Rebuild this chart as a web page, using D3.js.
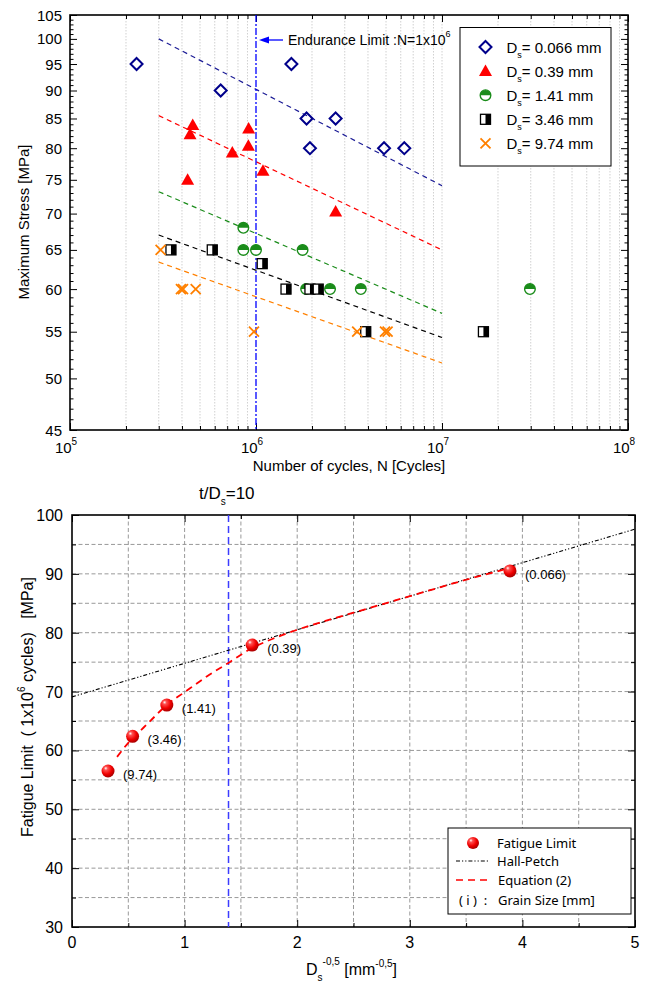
<!DOCTYPE html>
<html>
<head>
<meta charset="utf-8">
<script src="https://cdn.jsdelivr.net/npm/d3@7"></script>
<style>
body { margin: 0; background: #fff; }
svg { display: block; }
text { white-space: pre; }
</style>
</head>
<body>
<script>
// ---------- S-N data (upper chart) ----------
const grainLabels = ['0.066', '0.39', '1.41', '3.46', '9.74'];
const ds066 = [[2.28e5, 95], [6.46e5, 90], [1.55e6, 95], [1.87e6, 85], [2.68e6, 85], [1.95e6, 80], [4.88e6, 80], [6.27e6, 80]];
const ds039 = [[4.29e5, 75], [4.42e5, 82.3], [4.57e5, 83.9], [7.46e5, 79.3], [9.1e5, 80.4], [9.13e5, 83.3], [1.09e6, 76.4], [2.68e6, 70.3]];
const ds141 = [[8.55e5, 68], [8.55e5, 65], [1.0e6, 65], [1.78e6, 65], [1.86e6, 60], [2.5e6, 60], [3.66e6, 60], [2.97e7, 60]];
const ds346 = [[3.49e5, 65], [5.82e5, 65], [1.08e6, 63.2], [1.45e6, 60], [1.95e6, 60], [2.16e6, 60], [3.89e6, 55], [1.67e7, 55]];
const ds974 = [[3.07e5, 65], [3.95e5, 60], [4.05e5, 60], [4.74e5, 60], [9.75e5, 55], [3.5e6, 55], [4.94e6, 55], [5.1e6, 55]];
const fitStartN = 3e5;
const fitEndN = 1e7;
const fitStartStress = [100, 85.5, 73.2, 67.0, 63.4];
const fitEndStress = [74.1, 65.0, 57.1, 54.35, 51.6];
const enduranceN = 1e6;
const stressTicks = [45, 50, 55, 60, 65, 70, 75, 80, 85, 90, 95, 100, 105];
const cycleDecades = [1e5, 1e6, 1e7, 1e8];

// ---------- fatigue limit data (lower chart) ----------
const dInvSqrt = [3.89, 1.60, 0.842, 0.538, 0.320];
const fatigueLimit = [90.5, 77.9, 67.7, 62.4, 56.5];
const hallPetchX = [0, 5];
const hallPetchY = [69.1, 97.6];
const equationX = [0.40, 0.50, 0.60, 0.70, 0.84, 1.0, 1.2, 1.4, 1.6, 1.8, 2.0, 2.5, 3.0, 3.5, 3.85];
const equationY = [58.9, 61.3, 63.2, 65.1, 67.7, 69.9, 72.6, 75.0, 77.4, 79.1, 80.5, 83.4, 86.2, 89.0, 90.8];
const tOverDsLine = 1.39;
const limitTicks = [30, 40, 50, 60, 70, 80, 90, 100];
const dTicks = [0, 1, 2, 3, 4, 5];

const FONT = '"Liberation Sans", Arial, sans-serif';

const svg = d3.select('body').append('svg')
    .attr('width', 651)
    .attr('height', 983)
    .attr('font-family', FONT);

const defs = svg.append('defs');
const grad = defs.append('radialGradient')
    .attr('id', 'ball')
    .attr('cx', '40%').attr('cy', '35%').attr('r', '65%')
    .attr('fx', '32%').attr('fy', '28%');
grad.append('stop').attr('offset', '0%').attr('stop-color', '#ffffff');
grad.append('stop').attr('offset', '22%').attr('stop-color', '#ff5050');
grad.append('stop').attr('offset', '65%').attr('stop-color', '#f00000');
grad.append('stop').attr('offset', '100%').attr('stop-color', '#a80000');

// inward ticks on one side of a frame
function ticksOn(g, axisFn, scale, values, size, transform) {
    g.append('g')
        .attr('transform', transform)
        .call(axisFn(scale).tickValues(values).tickSize(-size).tickFormat(''))
        .call(s => s.select('.domain').remove())
        .call(s => s.selectAll('.tick line').attr('stroke', '#000').attr('stroke-width', 1));
}

// ================= upper chart =================
const x1 = d3.scaleLog().domain([1e5, 1e8]).range([70, 628]);
const y1 = d3.scaleLog().domain([45, 105]).range([430, 15]);

const minorCycles = [];
[1e5, 1e6, 1e7].forEach(d => { for (let k = 2; k <= 9; k++) minorCycles.push(d * k); });
const minorStress = d3.range(45, 106).filter(v => v % 5 !== 0);

const upper = svg.append('g');

upper.append('g')
    .selectAll('line')
    .data(minorCycles.concat([1e7]))
    .join('line')
    .attr('x1', d => x1(d)).attr('x2', d => x1(d))
    .attr('y1', y1(105)).attr('y2', y1(45))
    .attr('stroke', '#c4c4c4')
    .attr('stroke-width', 0.8)
    .attr('stroke-dasharray', '1.5 1.5');

ticksOn(upper, d3.axisBottom, x1, cycleDecades, 7, `translate(0,${y1(45)})`);
ticksOn(upper, d3.axisBottom, x1, minorCycles, 4, `translate(0,${y1(45)})`);
ticksOn(upper, d3.axisTop, x1, cycleDecades, 7, `translate(0,${y1(105)})`);
ticksOn(upper, d3.axisTop, x1, minorCycles, 4, `translate(0,${y1(105)})`);
ticksOn(upper, d3.axisLeft, y1, stressTicks, 7, `translate(${x1(1e5)},0)`);
ticksOn(upper, d3.axisLeft, y1, minorStress, 3.5, `translate(${x1(1e5)},0)`);
ticksOn(upper, d3.axisRight, y1, stressTicks, 7, `translate(${x1(1e8)},0)`);
ticksOn(upper, d3.axisRight, y1, minorStress, 3.5, `translate(${x1(1e8)},0)`);

upper.append('rect')
    .attr('x', x1(1e5)).attr('y', y1(105))
    .attr('width', x1(1e8) - x1(1e5)).attr('height', y1(45) - y1(105))
    .attr('fill', 'none').attr('stroke', '#000').attr('stroke-width', 1.6);

// y tick labels
upper.append('g')
    .selectAll('text')
    .data(stressTicks)
    .join('text')
    .attr('x', x1(1e5) - 8)
    .attr('y', d => y1(d) + 5.5)
    .attr('text-anchor', 'end')
    .attr('font-size', 15)
    .text(d => d);

// x tick labels 10^n
upper.append('g')
    .selectAll('text')
    .data(cycleDecades)
    .join('text')
    .attr('x', d => x1(d) - 4)
    .attr('y', 453)
    .attr('text-anchor', 'middle')
    .attr('font-size', 15)
    .call(t => {
        t.append('tspan').text('10');
        t.append('tspan').attr('dy', -8).attr('font-size', 10).text(d => Math.round(Math.log10(d)));
    });

upper.append('text')
    .attr('x', 349).attr('y', 471)
    .attr('text-anchor', 'middle')
    .attr('font-size', 15)
    .text('Number of cycles, N [Cycles]');

upper.append('text')
    .attr('transform', 'translate(29,222) rotate(-90)')
    .attr('text-anchor', 'middle')
    .attr('font-size', 15)
    .text('Maximum Stress [MPa]');

// fitted dashed lines
const seriesColors = ['#1c1c96', '#ff0000', '#1a8c1a', '#000000', '#ff8000'];
const fitLine = d3.line().x(d => x1(d[0])).y(d => y1(d[1]));
upper.append('g')
    .selectAll('path')
    .data(fitStartStress.map((s, i) => [[fitStartN, s], [fitEndN, fitEndStress[i]]]))
    .join('path')
    .attr('d', fitLine)
    .attr('fill', 'none')
    .attr('stroke', (d, i) => seriesColors[i])
    .attr('stroke-width', 1.2)
    .attr('stroke-dasharray', '5 4');

// endurance limit
upper.append('line')
    .attr('x1', x1(enduranceN)).attr('x2', x1(enduranceN))
    .attr('y1', y1(105)).attr('y2', y1(45))
    .attr('stroke', '#0000ff')
    .attr('stroke-width', 1.3)
    .attr('stroke-dasharray', '7 2 2 2');

upper.append('line')
    .attr('x1', 268).attr('x2', 283).attr('y1', 40).attr('y2', 40)
    .attr('stroke', '#0000ff').attr('stroke-width', 1.3);
upper.append('path')
    .attr('d', 'M259,40 L269,36.5 L269,43.5 Z')
    .attr('fill', '#0000ff');
upper.append('text')
    .attr('x', 288).attr('y', 45)
    .attr('font-size', 14)
    .call(t => {
        t.append('tspan').text('Endurance Limit :N=1x10');
        t.append('tspan').attr('dy', -8).attr('font-size', 9).text('6');
    });

// markers
function drawMarker(g, type) {
    if (type === 0) {
        g.append('path').attr('d', 'M0,-6 L6,0 L0,6 L-6,0 Z')
            .attr('fill', 'none').attr('stroke', '#00008b').attr('stroke-width', 2);
    } else if (type === 1) {
        g.append('path').attr('d', 'M0,-6.5 L6.5,5 L-6.5,5 Z').attr('fill', '#ff0000');
    } else if (type === 2) {
        g.append('circle').attr('r', 5.3).attr('fill', '#fff').attr('stroke', '#1a8c1a').attr('stroke-width', 1.4);
        g.append('path').attr('d', 'M-5.3,0 A5.3,5.3 0 0 1 5.3,0 Z').attr('fill', '#1a8c1a');
    } else if (type === 3) {
        g.append('rect').attr('x', -5).attr('y', -5).attr('width', 10).attr('height', 10)
            .attr('fill', '#fff').attr('stroke', '#000').attr('stroke-width', 1.3);
        g.append('rect').attr('x', 0).attr('y', -5).attr('width', 5).attr('height', 10).attr('fill', '#000');
    } else {
        g.append('path').attr('d', 'M-5,-5 L5,5 M-5,5 L5,-5')
            .attr('stroke', '#ff8000').attr('stroke-width', 1.8);
    }
}

[ds066, ds039, ds141, ds346, ds974].forEach((data, i) => {
    upper.append('g')
        .selectAll('g')
        .data(data)
        .join('g')
        .attr('transform', d => `translate(${x1(d[0])},${y1(d[1])})`)
        .each(function () { drawMarker(d3.select(this), i); });
});

// legend
const leg1 = upper.append('g');
leg1.append('rect')
    .attr('x', 460).attr('y', 27.5).attr('width', 151).attr('height', 138.5)
    .attr('fill', '#fff').attr('stroke', '#000').attr('stroke-width', 1);
grainLabels.forEach((lab, i) => {
    const cy = 47 + i * 24.1;
    drawMarker(leg1.append('g').attr('transform', `translate(485.5,${cy})`), i);
    leg1.append('text')
        .attr('x', 506.5).attr('y', cy + 5.5)
        .attr('font-size', 15)
        .call(t => {
            t.append('tspan').text('D');
            t.append('tspan').attr('dy', 5).attr('font-size', 9).text('s');
            t.append('tspan').attr('dy', -5).text(`= ${lab} mm`);
        });
});

// ================= lower chart =================
const x2 = d3.scaleLinear().domain([0, 5]).range([72, 635]);
const y2 = d3.scaleLinear().domain([30, 100]).range([927, 515]);

const lower = svg.append('g');

const gridX = d3.range(0.5, 5, 0.5);
const gridY = d3.range(35, 100, 5);
lower.append('g')
    .selectAll('line')
    .data(gridX)
    .join('line')
    .attr('x1', d => x2(d)).attr('x2', d => x2(d))
    .attr('y1', y2(100)).attr('y2', y2(30))
    .attr('stroke', '#999').attr('stroke-width', 1).attr('stroke-dasharray', '4 2.5');
lower.append('g')
    .selectAll('line')
    .data(gridY)
    .join('line')
    .attr('x1', x2(0)).attr('x2', x2(5))
    .attr('y1', d => y2(d)).attr('y2', d => y2(d))
    .attr('stroke', '#999').attr('stroke-width', 1).attr('stroke-dasharray', '4 2.5');

const minorD = d3.range(0.5, 5, 1);
const minorLimit = d3.range(35, 100, 10);
ticksOn(lower, d3.axisBottom, x2, dTicks, 7, `translate(0,${y2(30)})`);
ticksOn(lower, d3.axisBottom, x2, minorD, 4, `translate(0,${y2(30)})`);
ticksOn(lower, d3.axisTop, x2, dTicks, 7, `translate(0,${y2(100)})`);
ticksOn(lower, d3.axisTop, x2, minorD, 4, `translate(0,${y2(100)})`);
ticksOn(lower, d3.axisLeft, y2, limitTicks, 7, `translate(${x2(0)},0)`);
ticksOn(lower, d3.axisLeft, y2, minorLimit, 4, `translate(${x2(0)},0)`);
ticksOn(lower, d3.axisRight, y2, limitTicks, 7, `translate(${x2(5)},0)`);
ticksOn(lower, d3.axisRight, y2, minorLimit, 4, `translate(${x2(5)},0)`);

lower.append('rect')
    .attr('x', x2(0)).attr('y', y2(100))
    .attr('width', x2(5) - x2(0)).attr('height', y2(30) - y2(100))
    .attr('fill', 'none').attr('stroke', '#000').attr('stroke-width', 1.6);

lower.append('g')
    .selectAll('text')
    .data(limitTicks)
    .join('text')
    .attr('x', x2(0) - 9)
    .attr('y', d => y2(d) + 6)
    .attr('text-anchor', 'end')
    .attr('font-size', 16)
    .text(d => d);

lower.append('g')
    .selectAll('text')
    .data(dTicks)
    .join('text')
    .attr('x', d => x2(d))
    .attr('y', 948)
    .attr('text-anchor', 'middle')
    .attr('font-size', 16)
    .text(d => d);

// axis titles
lower.append('text')
    .attr('x', 306).attr('y', 975)
    .attr('font-size', 16)
    .call(t => {
        t.append('tspan').text('D');
        t.append('tspan').attr('dy', 6).attr('font-size', 10).text('s');
        t.append('tspan').attr('dy', -16).attr('font-size', 10).text('-0,5');
        t.append('tspan').attr('dy', 10).text(' [mm');
        t.append('tspan').attr('dy', -8).attr('font-size', 10).text('-0,5');
        t.append('tspan').attr('dy', 8).text(']');
    });

lower.append('text')
    .attr('transform', 'translate(33,707) rotate(-90)')
    .attr('text-anchor', 'middle')
    .attr('font-size', 16)
    .call(t => {
        t.append('tspan').text('Fatigue Limit  ( 1x10');
        t.append('tspan').attr('dy', -8).attr('font-size', 10).text('6');
        t.append('tspan').attr('dy', 8).text(' cycles)   [MPa]');
    });

// t/Ds = 10
lower.append('line')
    .attr('x1', x2(tOverDsLine)).attr('x2', x2(tOverDsLine))
    .attr('y1', y2(100)).attr('y2', y2(30))
    .attr('stroke', '#3c3cff').attr('stroke-width', 1.5).attr('stroke-dasharray', '7 4');
lower.append('text')
    .attr('x', 199).attr('y', 499)
    .attr('font-size', 17)
    .call(t => {
        t.append('tspan').text('t/D');
        t.append('tspan').attr('dy', 6).attr('font-size', 10).text('s');
        t.append('tspan').attr('dy', -6).text('=10');
    });

// Hall-Petch line
const line2 = d3.line().x(d => x2(d[0])).y(d => y2(d[1]));
lower.append('path')
    .attr('d', line2(hallPetchX.map((x, i) => [x, hallPetchY[i]])))
    .attr('fill', 'none').attr('stroke', '#000').attr('stroke-width', 1.1)
    .attr('stroke-dasharray', '4 2 1.2 2 1.2 2');

// Equation (2)
lower.append('path')
    .attr('d', line2.curve(d3.curveMonotoneX)(equationX.map((x, i) => [x, equationY[i]])))
    .attr('fill', 'none').attr('stroke', '#ff0000').attr('stroke-width', 1.8)
    .attr('stroke-dasharray', '7 5');

// points and grain size labels
lower.append('g')
    .selectAll('circle')
    .data(dInvSqrt)
    .join('circle')
    .attr('cx', d => x2(d))
    .attr('cy', (d, i) => y2(fatigueLimit[i]))
    .attr('r', 6.5)
    .attr('fill', 'url(#ball)');

lower.append('g')
    .selectAll('text')
    .data(dInvSqrt)
    .join('text')
    .attr('x', d => x2(d) + 15)
    .attr('y', (d, i) => y2(fatigueLimit[i]) + 8)
    .attr('font-size', 13)
    .text((d, i) => `(${grainLabels[i]})`);

// legend
const leg2 = lower.append('g').attr('font-family', '"Noto Sans", "Open Sans", sans-serif').attr('font-size', 13);
leg2.append('rect')
    .attr('x', 448).attr('y', 828).attr('width', 183).attr('height', 86)
    .attr('fill', '#fff').attr('stroke', '#000').attr('stroke-width', 1);
leg2.append('circle').attr('cx', 473).attr('cy', 843).attr('r', 6).attr('fill', 'url(#ball)');
leg2.append('text').attr('x', 497).attr('y', 848).text('Fatigue Limit');
leg2.append('line').attr('x1', 456).attr('x2', 490).attr('y1', 861).attr('y2', 861)
    .attr('stroke', '#000').attr('stroke-width', 1.1).attr('stroke-dasharray', '4 2 1.2 2 1.2 2');
leg2.append('text').attr('x', 497).attr('y', 866).text('Hall-Petch');
leg2.append('line').attr('x1', 456).attr('x2', 491).attr('y1', 880).attr('y2', 880)
    .attr('stroke', '#ff0000').attr('stroke-width', 1.6).attr('stroke-dasharray', '7 5');
leg2.append('text').attr('x', 498).attr('y', 885).text('Equation (2)');
leg2.append('text').attr('x', 459).attr('y', 905).text('( i )  :');
leg2.append('text').attr('x', 498).attr('y', 905).text('Grain Size [mm]');
</script>
</body>
</html>
